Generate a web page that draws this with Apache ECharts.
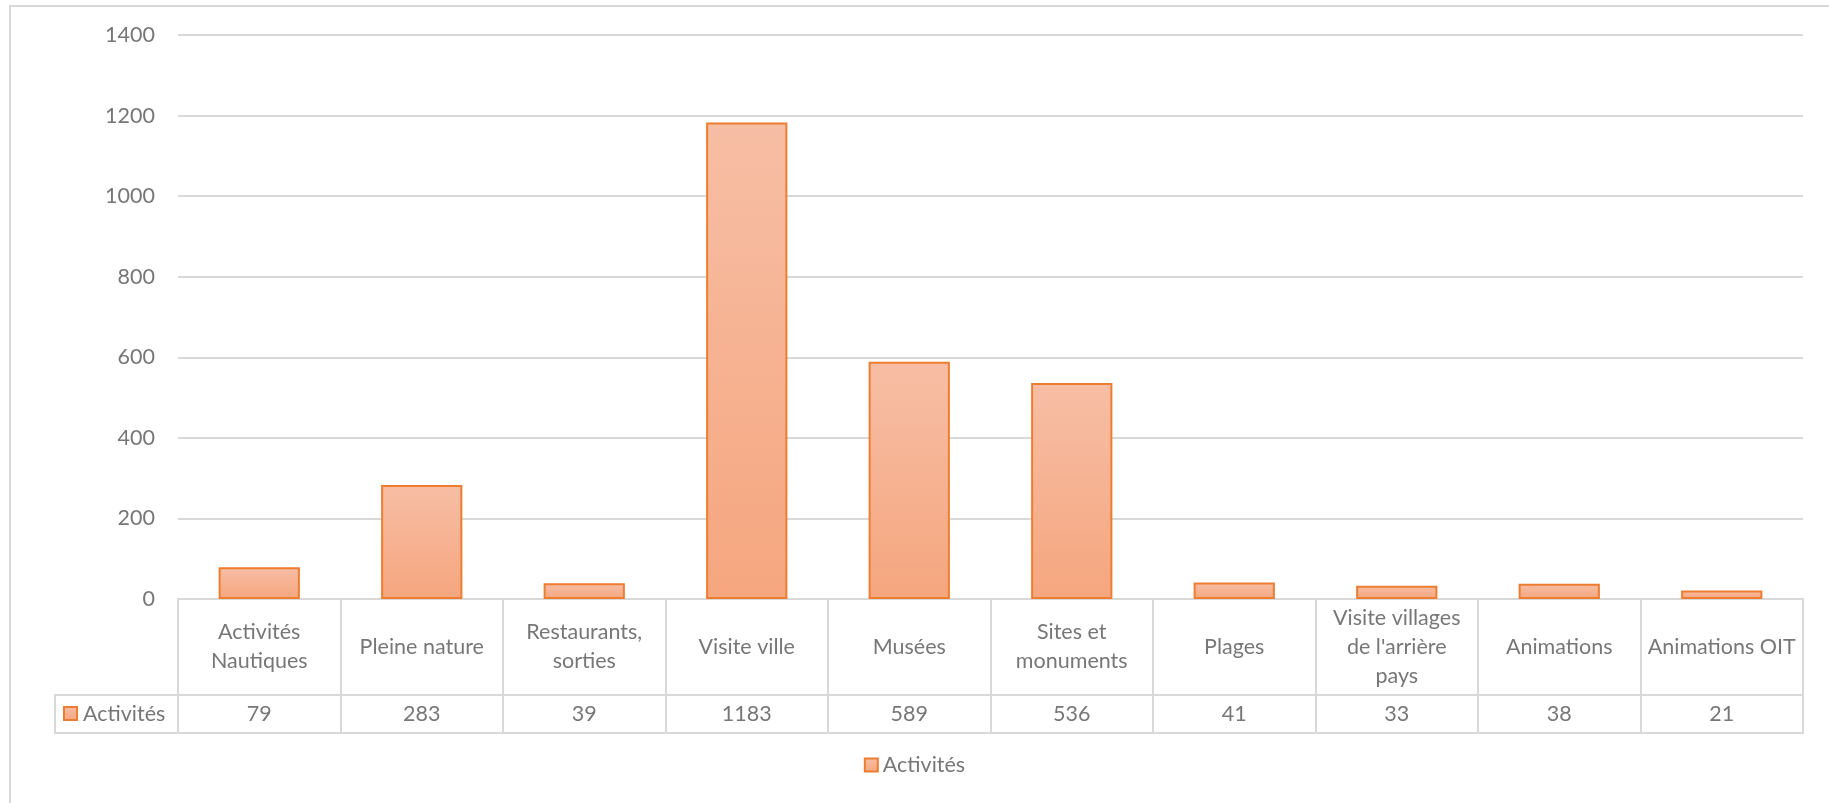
<!DOCTYPE html>
<html>
<head>
<meta charset="utf-8">
<script src="https://cdn.jsdelivr.net/npm/echarts@6/dist/echarts.min.js"></script>
<style>
html,body{margin:0;padding:0;background:#fff;}
#c{width:1829px;height:803px;}
</style>
</head>
<body>
<div id="c"></div>
<script>
var categories = ["Activités\nNautiques", "Pleine nature", "Restaurants,\nsorties", "Visite ville", "Musées", "Sites et\nmonuments", "Plages", "Visite villages\nde l'arrière\npays", "Animations", "Animations OIT"];
var values = [79, 283, 39, 1183, 589, 536, 41, 33, 38, 21];
var seriesName = "Activités";
var yTicks = {min: 0, max: 1400, interval: 200};

var FONT = "Lato, 'Open Sans', sans-serif";
var FS = 21.5;
var TXT = "#777777";
var LINE = "#d9d9d9";
var G = {left: 178, right: 26, top: 35, bottom: 204};
var W = 1829, H = 803;
var axisY = H - G.bottom;           // 599
var row1 = 96, row2 = 134;

var barColor = new echarts.graphic.LinearGradient(0, 0, 0, 1, [
  {offset: 0, color: '#f7bea5'},
  {offset: 1, color: '#f5a67e'}
]);

var chart = echarts.init(document.getElementById('c'), null, {renderer: 'canvas'});
chart.setOption({
  animation: false,
  backgroundColor: '#fff',
  textStyle: {fontFamily: FONT},
  grid: {left: G.left, right: G.right, top: G.top, bottom: G.bottom, containLabel: false},
  legend: {
    data: [seriesName],
    bottom: 22,
    left: 'center',
    icon: 'rect',
    itemWidth: 13,
    itemHeight: 13,
    itemGap: 6,
    textStyle: {color: TXT, fontSize: FS, fontFamily: FONT},
    itemStyle: {borderColor: '#ed7d31', borderWidth: 2}
  },
  xAxis: [
    {
      type: 'category',
      data: categories,
      position: 'bottom',
      axisLine: {show: true, lineStyle: {color: LINE, width: 2}},
      axisTick: {show: true, length: row2, lineStyle: {color: LINE, width: 2}},
      axisLabel: {color: TXT, fontSize: FS, lineHeight: 29, margin: row1 / 2, verticalAlign: 'middle', interval: 0, fontFamily: FONT},
      splitLine: {show: false}
    },
    {
      type: 'category',
      data: values.map(String),
      position: 'bottom',
      offset: row1,
      axisLine: {show: true, lineStyle: {color: LINE, width: 2}},
      axisTick: {show: false},
      axisLabel: {color: TXT, fontSize: FS, margin: (row2 - row1) / 2, verticalAlign: 'middle', interval: 0, fontFamily: FONT}
    },
    {
      type: 'category',
      data: categories,
      position: 'bottom',
      offset: row2,
      axisLine: {show: true, lineStyle: {color: LINE, width: 2}},
      axisTick: {show: false},
      axisLabel: {show: false}
    }
  ],
  yAxis: {
    type: 'value',
    min: yTicks.min,
    max: yTicks.max,
    interval: yTicks.interval,
    axisLine: {show: false},
    axisTick: {show: false},
    axisLabel: {color: TXT, fontSize: FS, margin: 23, fontFamily: FONT, formatter: function (v) { return String(v); }},
    splitLine: {lineStyle: {color: LINE, width: 2}}
  },
  series: [{
    name: seriesName,
    type: 'bar',
    xAxisIndex: 0,
    data: values,
    barWidth: '50%',
    itemStyle: {color: barColor, borderColor: '#ed7d31', borderWidth: 2}
  }],
  graphic: [
    {type: 'rect', silent: true, shape: {x: 10, y: 6, width: W + 20, height: H + 20}, style: {fill: 'none', stroke: LINE, lineWidth: 2}, z: -10},
    {type: 'polyline', silent: true, shape: {points: [[G.left, axisY + row1], [55, axisY + row1], [55, axisY + row2], [G.left, axisY + row2]]}, style: {fill: 'none', stroke: LINE, lineWidth: 2}},
    {type: 'rect', silent: true, shape: {x: 64, y: axisY + 108, width: 13, height: 13}, style: {fill: barColor, stroke: '#ed7d31', lineWidth: 2}},
    {type: 'text', silent: true, x: 83, y: axisY + (row1 + row2) / 2, style: {text: seriesName, fill: TXT, font: FS + 'px ' + FONT, verticalAlign: 'middle', align: 'left'}}
  ]
});
</script>
</body>
</html>
